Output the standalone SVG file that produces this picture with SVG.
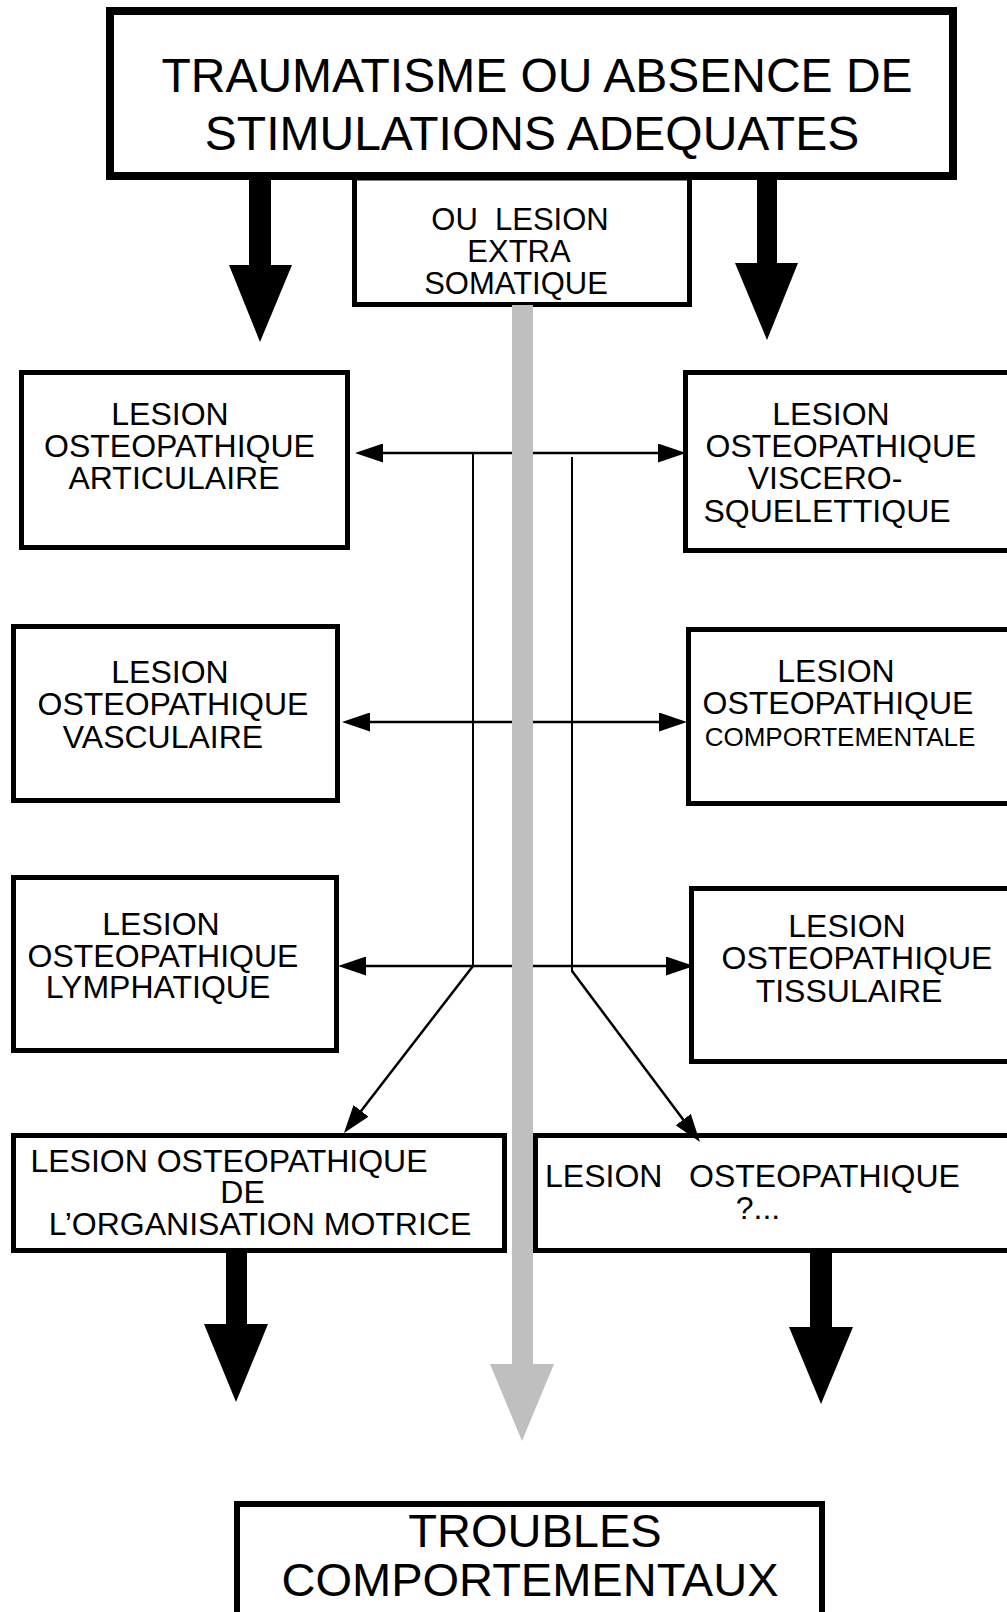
<svg xmlns="http://www.w3.org/2000/svg" width="1007" height="1612" viewBox="0 0 1007 1612">
  <style>
    .box { fill: #ffffff; stroke: #000000; stroke-width: 5; }
    .t { font-family: "Liberation Sans", Arial, Helvetica, sans-serif; fill: #000000; text-anchor: middle; white-space: pre; }
    .s32 { font-size: 32px; }
    .link { stroke: #000000; stroke-width: 2.5; fill: none; }
    .arrow { stroke: #000000; stroke-width: 2.5; fill: none; marker-end: url(#tip); }
    .thick { fill: #000000; }
  </style>
  <defs>
    <marker id="tip" markerUnits="userSpaceOnUse" viewBox="0 0 28 19" markerWidth="28" markerHeight="19" refX="8" refY="9.5" orient="auto">
      <path d="M0,0 L28,9.5 L0,19 Z" fill="#000000"/>
    </marker>
  </defs>
  <rect width="1007" height="1612" fill="#ffffff"/>

  <!-- boxes -->
  <g id="node-extra-somatique">
    <rect class="box" x="354.5" y="178" width="335" height="126.5"/>
    <text class="t" font-size="31" x="520" y="230">OU  LESION</text>
    <text class="t" font-size="31" x="519" y="262">EXTRA</text>
    <text class="t" font-size="31" x="516" y="294">SOMATIQUE</text>
  </g>
  <g id="node-traumatisme">
    <rect class="box" style="stroke-width:8" x="110" y="11" width="843" height="165"/>
    <text class="t" font-size="48" x="537" y="92">TRAUMATISME OU ABSENCE DE</text>
    <text class="t" font-size="48" x="532" y="150">STIMULATIONS ADEQUATES</text>
  </g>
  <g id="node-articulaire">
    <rect class="box" x="21.5" y="372.5" width="326" height="175"/>
    <text class="t s32" x="170" y="425">LESION</text>
    <text class="t s32" x="179.5" y="457">OSTEOPATHIQUE</text>
    <text class="t s32" x="174" y="489">ARTICULAIRE</text>
  </g>
  <g id="node-viscero">
    <rect class="box" x="685.5" y="372.5" width="340" height="178"/>
    <text class="t s32" x="831" y="425">LESION</text>
    <text class="t s32" x="841" y="457">OSTEOPATHIQUE</text>
    <text class="t s32" x="825" y="489">VISCERO-</text>
    <text class="t s32" x="827" y="522">SQUELETTIQUE</text>
  </g>
  <g id="node-vasculaire">
    <rect class="box" x="13.5" y="626.5" width="324" height="174"/>
    <text class="t s32" x="170" y="683">LESION</text>
    <text class="t s32" x="173" y="715">OSTEOPATHIQUE</text>
    <text class="t s32" x="163" y="748">VASCULAIRE</text>
  </g>
  <g id="node-comportementale">
    <rect class="box" x="688.5" y="629.5" width="340" height="174"/>
    <text class="t s32" x="836" y="682">LESION</text>
    <text class="t s32" x="838" y="714">OSTEOPATHIQUE</text>
    <text class="t" font-size="26" x="840" y="746">COMPORTEMENTALE</text>
  </g>
  <g id="node-lymphatique">
    <rect class="box" x="13.5" y="877.5" width="323" height="173"/>
    <text class="t s32" x="161" y="935">LESION</text>
    <text class="t s32" x="163" y="967">OSTEOPATHIQUE</text>
    <text class="t s32" x="158" y="998">LYMPHATIQUE</text>
  </g>
  <g id="node-tissulaire">
    <rect class="box" x="691.5" y="888.5" width="340" height="173"/>
    <text class="t s32" x="847" y="937">LESION</text>
    <text class="t s32" x="857" y="969">OSTEOPATHIQUE</text>
    <text class="t s32" x="849" y="1002">TISSULAIRE</text>
  </g>
  <g id="node-organisation-motrice">
    <rect class="box" x="13.5" y="1135.5" width="491" height="115"/>
    <text class="t s32" x="229" y="1172">LESION OSTEOPATHIQUE</text>
    <text class="t s32" x="242.5" y="1203">DE</text>
    <text class="t s32" x="260" y="1235">L’ORGANISATION MOTRICE</text>
  </g>
  <g id="node-autre">
    <rect class="box" x="535.5" y="1135.5" width="500" height="115"/>
    <text class="t s32" style="text-anchor:start" x="545" y="1187">LESION</text>
    <text class="t s32" style="text-anchor:start" x="689" y="1187">OSTEOPATHIQUE</text>
    <text class="t s32" x="758" y="1219">?...</text>
  </g>
  <g id="node-troubles">
    <rect class="box" style="stroke-width:6" x="237" y="1504" width="585" height="200"/>
    <text class="t" font-size="47" x="535" y="1547">TROUBLES</text>
    <text class="t" font-size="47" x="530" y="1596">COMPORTEMENTAUX</text>
  </g>

  <!-- connectors -->
  <g id="connectors">
    <!-- vertical collectors -->
    <line class="link" style="stroke-width:2" x1="473" y1="453" x2="473" y2="967"/>
    <line class="link" style="stroke-width:2" x1="572" y1="457" x2="572" y2="972"/>
    <!-- two-way horizontal links -->
    <line class="arrow" x1="522" y1="453" x2="375" y2="453"/>
    <line class="arrow" x1="522" y1="453" x2="666" y2="453"/>
    <line class="arrow" x1="522" y1="722" x2="362" y2="722"/>
    <line class="arrow" x1="522" y1="722" x2="667" y2="722"/>
    <line class="arrow" x1="522" y1="966" x2="358" y2="966"/>
    <line class="arrow" x1="522" y1="966" x2="674" y2="966"/>
    <!-- diagonals to the lower boxes -->
    <line class="arrow" x1="473" y1="966" x2="356.2" y2="1117.2"/>
    <line class="arrow" x1="572" y1="971" x2="688" y2="1126"/>
    <!-- thick arrows -->
    <polygon class="thick" points="249,178 271,178 271,265 292,265 260,342 229,265 249,265"/>
    <polygon class="thick" points="757,178 777,178 777,263 798,263 767,340 735,263 757,263"/>
    <polygon class="thick" points="226,1252 247,1252 247,1324 268,1324 236,1402 204,1324 226,1324"/>
    <polygon class="thick" points="810,1252 832,1252 832,1327 853,1327 821,1404 789,1327 810,1327"/>
    <!-- grey main path -->
    <polygon fill="#bfbfbf" points="512,305 533,305 533,1364 554,1364 522,1441 490,1364 512,1364"/>
  </g>
</svg>
